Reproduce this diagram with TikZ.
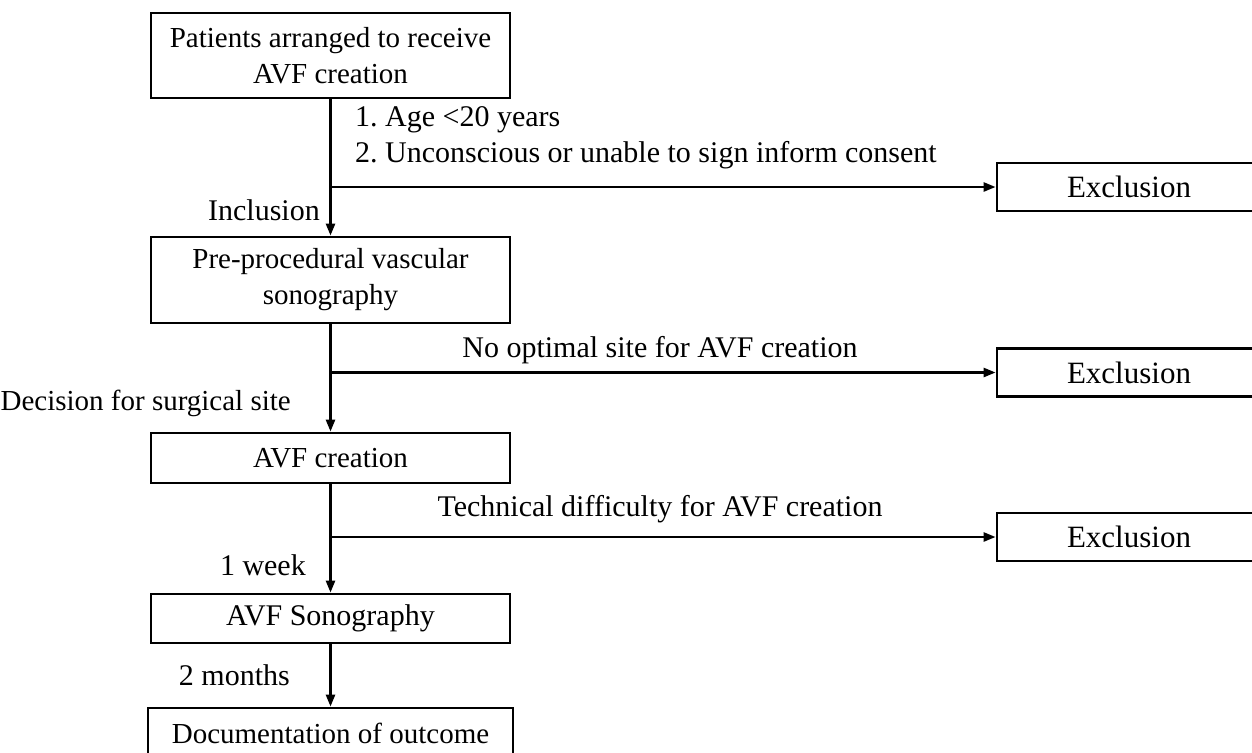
\documentclass[tikz,border=0pt]{standalone}
\usepackage{fontspec}
\setmainfont{Liberation Serif}
\usepackage{tikz}
\usetikzlibrary{arrows.meta, positioning}

\tikzset{
    stepbox/.style={draw, line width=2.8pt, inner sep=0pt, align=center, minimum width=359pt, font=\fontsize{29}{36}\selectfont},
    exbox/.style={draw, line width=2.8pt, inner sep=0pt, minimum width=264pt, minimum height=48pt, font=\fontsize{31}{36}\selectfont},
    lbl/.style={inner sep=0pt, align=left},
    arr/.style={line width=2.5pt, -{Triangle[length=12pt,width=9pt]}}
}

\begin{document}
\frenchspacing
\begin{tikzpicture}[x=1pt,y=-1pt, font=\fontsize{30}{36}\selectfont]
    %set diagram window
    \useasboundingbox (0,0) rectangle (1252,752);

    % main steps
    \node[stepbox, minimum height=85pt] (patients) at (330.5,55.5) {Patients arranged to receive\\AVF creation};
    \node[stepbox, minimum height=86pt] (presono) at (330.5,280) {Pre-procedural vascular\\sonography};
    \node[stepbox, minimum height=50pt] (creation) at (330.5,458) {AVF creation};
    \node[stepbox, minimum height=49pt, font=\fontsize{30}{36}\selectfont] (avfsono) at (330.5,618.5) {AVF Sonography};
    \node[stepbox, minimum height=50pt, minimum width=365pt] (outcome) at (330.5,733) {Documentation of outcome};

    % exclusion boxes
    \node[exbox] (excl1) at (1129,187) {Exclusion};
    \node[exbox] (excl2) at (1129,372.5) {Exclusion};
    \node[exbox] (excl3) at (1129,537) {Exclusion};

    % branch points
    \coordinate (br1) at (330.5,187);
    \coordinate (br2) at (330.5,372.5);
    \coordinate (br3) at (330.5,537);

    % connectors
    \draw[arr] (patients) -- (presono);
    \draw[arr] (presono) -- (creation);
    \draw[arr] (creation) -- (avfsono);
    \draw[arr] (avfsono) -- (outcome);
    \draw[arr] (br1) -- (excl1);
    \draw[arr] (br2) -- (excl2);
    \draw[arr] (br3) -- (excl3);

    % labels
    \node[lbl, anchor=west] (crit) at (355,138) {1. Age <20 years\\2. Unconscious or unable to sign inform consent};
    \node[lbl, anchor=east] (incl) at (320,210) {Inclusion};
    \node[lbl] (nosite) at (660,350) {No optimal site for AVF creation};
    \node[lbl, anchor=east, font=\fontsize{29}{36}\selectfont] (decision) at (291,403) {Decision for surgical site};
    \node[lbl] (techdiff) at (660,509) {Technical difficulty for AVF creation};
    \node[lbl, anchor=east] (week) at (306,565) {1 week};
    \node[lbl, anchor=east] (months) at (290,675) {2 months};
\end{tikzpicture}
\end{document}
